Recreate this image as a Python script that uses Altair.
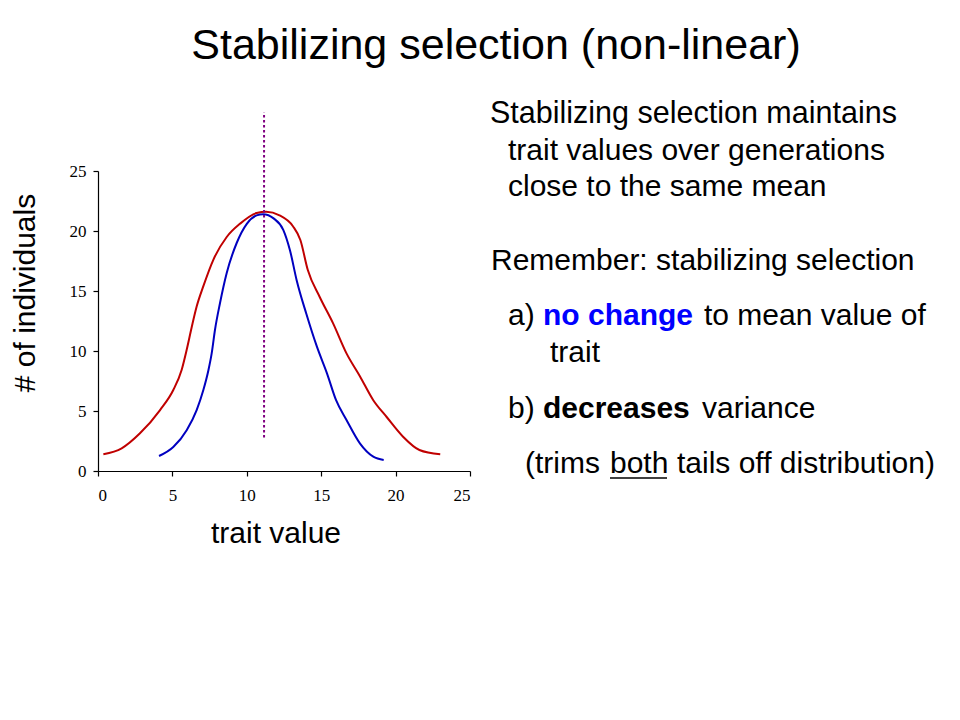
import altair as alt
import pandas as pd

# ---- data ----
red_x = [0.36, 1.59, 2.82, 4.17, 5.06, 5.62, 5.96, 6.3, 6.63, 7.08, 7.75, 8.65, 9.54, 10.66, 11.3,
         12.2, 13.1, 13.6, 14.1, 14.9, 15.8, 16.7, 17.6, 18.5, 19.4, 20.5, 21.6, 23.0]
red_y = [1.39, 1.89, 3.14, 5.08, 6.75, 8.42, 10.1, 12.0, 13.7, 15.4, 17.6, 19.5, 20.6, 21.5, 21.6,
         21.3, 20.4, 19.25, 16.75, 14.5, 12.3, 9.8, 7.9, 5.9, 4.5, 2.86, 1.75, 1.39]
blue_x = [4.1, 5.06, 5.96, 6.63, 7.08, 7.42, 7.64, 7.86, 8.2, 8.65, 9.32, 10.0, 10.66, 11.1, 11.8,
          12.45, 12.9, 13.35, 14.0, 14.7, 15.4, 16.0, 16.7, 17.6, 18.5, 19.2]
blue_y = [1.25, 2.0, 3.4, 5.08, 6.75, 8.4, 9.8, 11.75, 14.0, 16.5, 19.0, 20.6, 21.3, 21.4, 21.05,
          20.1, 18.4, 15.9, 13.1, 10.4, 8.1, 5.9, 4.25, 2.3, 1.19, 0.92]
mean_x = [11.16]
mean_y = [2.8]
mean_y2 = [29.9]
ticks = [0, 5, 10, 15, 20, 25]

title_text = "Stabilizing selection (non-linear)"
x_title = "trait value"
y_title = "# of individuals"

SANS = "Liberation Sans"

curves = pd.DataFrame({
    "x": red_x + blue_x,
    "y": red_y + blue_y,
    "series": ["before"] * len(red_x) + ["after"] * len(blue_x),
})

xs = alt.Scale(domain=[0, 25], nice=False, zero=False)
ys = alt.Scale(domain=[0, 25], nice=False, zero=False)

lines = alt.Chart(curves).mark_line(strokeWidth=2, interpolate="monotone").encode(
    x=alt.X("x:Q", scale=xs, axis=alt.Axis(values=ticks, title=None, grid=False)),
    y=alt.Y("y:Q", scale=ys, axis=alt.Axis(values=ticks, title=None, grid=False)),
    color=alt.Color("series:N", scale=alt.Scale(domain=["before", "after"],
                                                range=["#C00000", "#0000C0"]), legend=None),
    detail="series:N",
)

rule = alt.Chart(pd.DataFrame({"x": mean_x, "y": mean_y, "y2": mean_y2})).mark_rule(
    color="#800080", strokeWidth=2, strokeDash=[2.5, 2.5]
).encode(x=alt.X("x:Q", scale=xs), y=alt.Y("y:Q", scale=ys), y2="y2:Q")


def txt(s, x, y, size=30, weight="normal", color="black", align="left", angle=0):
    kw = dict(font=SANS, fontSize=size, fontWeight=weight, color=color, align=align,
              baseline="alphabetic")
    if angle:
        kw["angle"] = angle
    return alt.Chart(pd.DataFrame({"t": [s]})).mark_text(**kw).encode(
        x=alt.value(x), y=alt.value(y), text="t:N")


texts = [
    txt(title_text, 398, -112, size=43, align="center"),
    txt(x_title, 178, 372, align="center"),
    txt(y_title, -63, 122, align="center", angle=270),
    txt("Stabilizing selection maintains", 392, -48, size=30.5),
    txt("trait values over generations", 410, -11),
    txt("close to the same mean", 410, 25),
    txt("Remember: stabilizing selection", 393, 99),
    txt("a)", 410, 154),
    txt("no change", 445, 154, weight="bold", color="#0000FF"),
    txt("to mean value of", 606, 154),
    txt("trait", 452, 191),
    txt("b)", 410, 247),
    txt("decreases", 445, 247, weight="bold"),
    txt("variance", 604, 247),
    txt("(trims", 427, 302),
    txt("both", 512, 302),
    txt("tails off distribution)", 579, 302),
]

underline = alt.Chart(pd.DataFrame({"t": ["u"]})).mark_rule(color="black", strokeWidth=1.5).encode(
    x=alt.value(512), x2=alt.value(569), y=alt.value(307))

chart = alt.layer(lines, rule, *texts, underline).properties(
    width=372, height=300,
    autosize="none",
    padding={"left": 90, "top": 163, "right": 482, "bottom": 241},
).configure_view(stroke=None).configure_axis(
    labelFont="Liberation Serif", labelFontSize=17, labelColor="black",
    domainColor="black", tickColor="black", tickSize=5, domainWidth=1.2, tickWidth=1.2,
).configure_axisX(labelPadding=11).configure_axisY(labelPadding=7)

chart.save("out.html", embed_options={"renderer": "svg", "actions": False})
